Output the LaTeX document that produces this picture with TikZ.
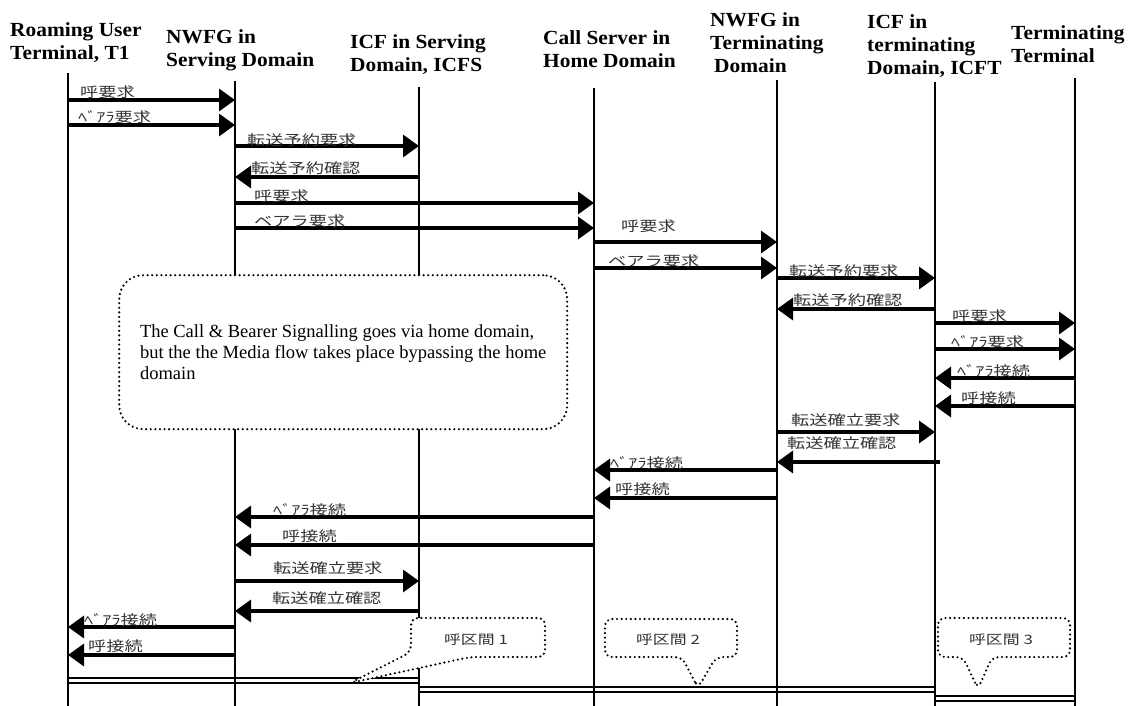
\documentclass[tikz,border=0pt]{standalone}
\usepackage{fontspec}
\setmainfont{Liberation Serif}
\newfontfamily\headfont[FakeStretch=1.07]{Liberation Serif}
\newfontfamily\jpfont[FakeStretch=1.3]{Noto Sans CJK JP}
\usetikzlibrary{arrows.meta}

\begin{document}
\begin{tikzpicture}[x=1pt, y=-1pt]
\tikzstyle{actor} = [anchor=north west, align=left, inner sep=0pt, font=\headfont\bfseries\fontsize{20}{23}\selectfont]
\tikzstyle{lifeline} = [line width=2.8pt]
\tikzstyle{arrow} = [line width=3.4pt, -{Triangle[length=16pt, width=22pt]}]
\tikzstyle{msg} = [anchor=base west, inner sep=0pt, text=black!80, font=\jpfont\fontsize{14}{16}\selectfont]
\tikzstyle{dots} = [line width=2.4pt, dash pattern=on 0pt off 4.6pt, line cap=round]
\tikzstyle{note} = [draw, dots, rounded corners=24pt, fill=white, align=left, minimum width=448pt, minimum height=154pt, inner sep=0pt, font=\fontsize{18.5}{21}\selectfont]
\tikzstyle{zone} = [draw, dots, rounded corners=7pt, fill=white]
\tikzstyle{zonetext} = [inner sep=0pt, text=black!80, font=\jpfont\fontsize{13}{15}\selectfont]
\tikzstyle{media} = [double, line width=1.7pt, double distance=3.6pt]

\useasboundingbox (0,0) rectangle (1142,706);

% headers
\node (hterm) [actor] at (10,22) {Roaming User\\Terminal, T1};
\node (hnwfgs) [actor] at (166,29) {NWFG in\\Serving Domain};
\node (hicfs) [actor] at (350,34) {ICF in Serving\\Domain, ICFS};
\node (hcserv) [actor] at (543,30) {Call Server in\\Home Domain};
\node (hnwfgt) [actor] at (710,12) {NWFG in\\Terminating\\\hspace*{4pt}Domain};
\node (hicft) [actor] at (867,14) {ICF in\\terminating\\Domain, ICFT};
\node (htterm) [actor] at (1011,25) {Terminating\\Terminal};

% lifeline tops
\coordinate (term) at (68,73);
\coordinate (nwfgs) at (235,81);
\coordinate (icfs) at (419,87);
\coordinate (cserv) at (594,88);
\coordinate (nwfgt) at (777,80);
\coordinate (icft) at (935,82);
\coordinate (tterm) at (1075,78);
\coordinate (bottom) at (0,706);

% media flow
\draw [media] (term |- 0,680.5) -- (icfs |- 0,680.5);
\draw [media] (icfs |- 0,689.5) -- (icft |- 0,689.5);
\draw [media] (icft |- 0,698.5) -- (tterm |- 0,698.5);

\draw [lifeline] (term) -- (term |- bottom);
\draw [lifeline] (nwfgs) -- (nwfgs |- bottom);
\draw [lifeline] (icfs) -- (icfs |- bottom);
\draw [lifeline] (cserv) -- (cserv |- bottom);
\draw [lifeline] (nwfgt) -- (nwfgt |- bottom);
\draw [lifeline] (icft) -- (icft |- bottom);
\draw [lifeline] (tterm) -- (tterm |- bottom);

\node (note) [note, anchor=north west] at (118,274) {The Call \& Bearer Signalling goes via home domain,\\but the the Media flow takes place bypassing the home\\domain};

% serving side set-up
\draw [arrow] (term |- 0,100) -- (nwfgs |- 0,100);
\node (m1) [msg] at (80,98) {呼要求};
\draw [arrow] (term |- 0,125) -- (nwfgs |- 0,125);
\node (m2) [msg] at (78,123) {ﾍﾞｱﾗ要求};
\draw [arrow] (nwfgs |- 0,146) -- (icfs |- 0,146);
\node (m3) [msg] at (247,145) {転送予約要求};
\draw [arrow] (icfs |- 0,177) -- (nwfgs |- 0,177);
\node (m4) [msg] at (251,173) {転送予約確認};
\draw [arrow] (nwfgs |- 0,203) -- (cserv |- 0,203);
\node (m5) [msg] at (254,201) {呼要求};
\draw [arrow] (nwfgs |- 0,228) -- (cserv |- 0,228);
\node (m6) [msg] at (254,226) {ベアラ要求};

% terminating side set-up
\draw [arrow] (cserv |- 0,242) -- (nwfgt |- 0,242);
\node (m7) [msg] at (621,231) {呼要求};
\draw [arrow] (cserv |- 0,268) -- (nwfgt |- 0,268);
\node (m8) [msg] at (608,266) {ベアラ要求};
\draw [arrow] (nwfgt |- 0,278) -- (icft |- 0,278);
\node (m9) [msg] at (789,276) {転送予約要求};
\draw [arrow] (icft |- 0,309) -- (nwfgt |- 0,309);
\node (m10) [msg] at (793,305) {転送予約確認};
\draw [arrow] (icft |- 0,323) -- (tterm |- 0,323);
\node (m11) [msg] at (952,321) {呼要求};
\draw [arrow] (icft |- 0,349) -- (tterm |- 0,349);
\node (m12) [msg] at (951,347) {ﾍﾞｱﾗ要求};
\draw [arrow] (tterm |- 0,378) -- (icft |- 0,378);
\node (m13) [msg] at (957,376) {ﾍﾞｱﾗ接続};
\draw [arrow] (tterm |- 0,406) -- (icft |- 0,406);
\node (m14) [msg] at (961,403) {呼接続};
\draw [arrow] (nwfgt |- 0,432) -- (icft |- 0,432);
\node (m15) [msg] at (791,425) {転送確立要求};
\draw [arrow] ([xshift=5pt]icft |- 0,462) -- (nwfgt |- 0,462);
\node (m16) [msg] at (787,448) {転送確立確認};

% connect back
\draw [arrow] (nwfgt |- 0,470) -- (cserv |- 0,470);
\node (m17) [msg] at (610,468) {ﾍﾞｱﾗ接続};
\draw [arrow] (nwfgt |- 0,498) -- (cserv |- 0,498);
\node (m18) [msg] at (615,494) {呼接続};
\draw [arrow] (cserv |- 0,517) -- (nwfgs |- 0,517);
\node (m19) [msg] at (273,515) {ﾍﾞｱﾗ接続};
\draw [arrow] (cserv |- 0,545) -- (nwfgs |- 0,545);
\node (m20) [msg] at (282,541) {呼接続};
\draw [arrow] (nwfgs |- 0,581) -- (icfs |- 0,581);
\node (m21) [msg] at (273,573) {転送確立要求};
\draw [arrow] (icfs |- 0,611) -- (nwfgs |- 0,611);
\node (m22) [msg] at (272,603) {転送確立確認};
\draw [arrow] (nwfgs |- 0,627) -- (term |- 0,627);
\node (m23) [msg] at (84,625) {ﾍﾞｱﾗ接続};
\draw [arrow] (nwfgs |- 0,655) -- (term |- 0,655);
\node (m24) [msg] at (88,651) {呼接続};

% call zones
\draw [zone] (350,683) -- (411,652) -- (411,618) -- (545,618) -- (545,657) -- (470,657) -- cycle;
\node (zone1) [zonetext] at (476,640) {呼区間 1};
\draw [zone] (698,688) -- (682,657) -- (605,657) -- (605,619) -- (737,619) -- (737,657) -- (716,657) -- cycle;
\node (zone2) [zonetext] at (668,640) {呼区間 2};
\draw [zone] (978,689) -- (963,657) -- (938,657) -- (938,618) -- (1070,618) -- (1070,657) -- (992,657) -- cycle;
\node (zone3) [zonetext] at (1001,640) {呼区間 3};
\end{tikzpicture}
\end{document}
